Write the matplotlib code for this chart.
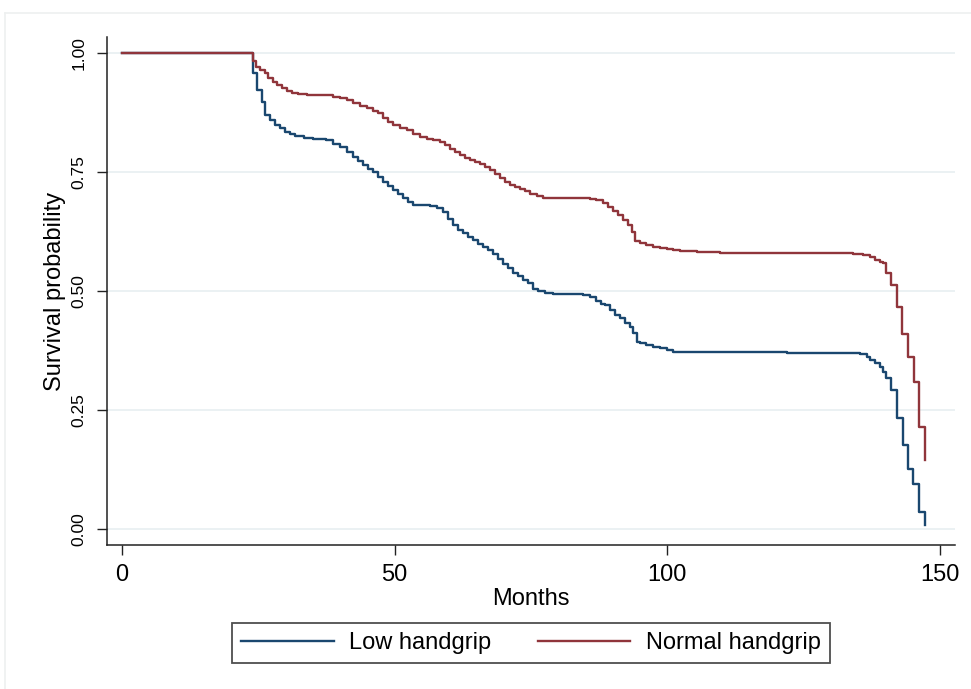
import matplotlib
matplotlib.use("Agg")
import matplotlib.pyplot as plt
from matplotlib.lines import Line2D

plt.rcParams['font.family'] = ['Liberation Sans', 'DejaVu Sans']

# Kaplan-Meier step points (months, survival)
low_t = [0, 24.0, 24.7, 25.6, 26.2, 27.1, 28.0, 29.0, 29.9, 30.8, 31.7, 33.3, 35.1,
         37.5, 38.75, 40.0, 41.2, 42.4, 43.3, 44.3, 45.2, 46.1, 47.0, 47.9, 48.8,
         49.75, 50.7, 51.6, 52.5, 53.4, 54.6, 56.5, 57.7, 58.9, 59.8, 60.8, 61.7,
         62.6, 63.5, 64.4, 65.3, 66.3, 67.2, 68.1, 69.0, 69.9, 70.8, 71.8, 72.7,
         73.6, 74.5, 75.4, 76.3, 77.6, 79.1, 84.6, 85.8, 87.0, 87.9, 88.6, 89.5,
         90.4, 91.3, 92.3, 93.2, 93.8, 94.4, 95.0, 96.2, 97.4, 98.7, 99.9, 101.1,
         102.9, 121.9, 135.3, 136.6, 137.2, 138.1, 139.0, 139.6, 140.2, 141.1,
         142.2, 143.2, 144.2, 145.1, 146.2, 147.3]
low_s = [1.0, 0.957, 0.921, 0.897, 0.869, 0.859, 0.848, 0.841, 0.834, 0.829, 0.825,
         0.822, 0.820, 0.816, 0.809, 0.802, 0.792, 0.782, 0.773, 0.764, 0.757, 0.750,
         0.740, 0.729, 0.720, 0.712, 0.704, 0.695, 0.686, 0.681, 0.680, 0.678, 0.675,
         0.666, 0.652, 0.638, 0.628, 0.621, 0.613, 0.606, 0.598, 0.593, 0.586, 0.577,
         0.568, 0.557, 0.548, 0.538, 0.531, 0.523, 0.516, 0.505, 0.500, 0.496, 0.493,
         0.492, 0.487, 0.480, 0.473, 0.470, 0.460, 0.449, 0.443, 0.432, 0.425, 0.411,
         0.393, 0.390, 0.387, 0.383, 0.380, 0.376, 0.373, 0.371, 0.370, 0.368, 0.362,
         0.355, 0.348, 0.341, 0.331, 0.317, 0.292, 0.233, 0.177, 0.126, 0.095, 0.037,
         0.009]

normal_t = [0, 24.0, 24.6, 25.4, 26.2, 26.8, 27.75, 28.4, 29.3, 30.2, 31.1, 32.3, 33.9,
            38.75, 40.0, 41.2, 42.4, 43.6, 44.9, 46.1, 47.0, 47.9, 48.8, 49.75, 51.0,
            52.2, 53.4, 54.6, 55.9, 57.1, 58.3, 59.2, 60.1, 61.1, 62.0, 62.9, 63.8,
            64.7, 65.7, 66.6, 67.5, 68.4, 69.3, 70.2, 71.2, 72.1, 73.0, 73.9, 74.8,
            76.1, 77.3, 84.0, 85.8, 87.0, 88.3, 89.2, 90.1, 91.0, 91.9, 92.9, 93.5,
            94.1, 95.0, 96.2, 97.4, 98.7, 99.9, 101.1, 102.3, 103.6, 105.4, 107.2,
            109.7, 126.2, 134.1, 135.9, 137.2, 138.1, 139.0, 139.6, 140.2, 141.1,
            142.2, 143.0, 144.2, 145.3, 146.2, 147.3]
normal_s = [1.0, 0.983, 0.970, 0.963, 0.957, 0.946, 0.939, 0.932, 0.925, 0.920, 0.916,
            0.913, 0.911, 0.907, 0.904, 0.900, 0.894, 0.889, 0.884, 0.878, 0.873, 0.862,
            0.855, 0.848, 0.843, 0.837, 0.830, 0.823, 0.820, 0.816, 0.813, 0.806, 0.799,
            0.792, 0.785, 0.780, 0.775, 0.770, 0.766, 0.761, 0.754, 0.746, 0.738, 0.729,
            0.722, 0.718, 0.714, 0.709, 0.704, 0.699, 0.696, 0.695, 0.694, 0.691, 0.685,
            0.677, 0.668, 0.659, 0.649, 0.638, 0.624, 0.605, 0.601, 0.596, 0.593, 0.590,
            0.588, 0.586, 0.584, 0.583, 0.582, 0.581, 0.580, 0.579, 0.577, 0.575, 0.572,
            0.566, 0.561, 0.558, 0.537, 0.512, 0.466, 0.410, 0.362, 0.310, 0.215, 0.145]

series_labels = ["Low handgrip", "Normal handgrip"]
x_ticks = [0, 50, 100, 150]
y_ticks = [0.0, 0.25, 0.50, 0.75, 1.0]
y_ticklabels = ["0.00", "0.25", "0.50", "0.75", "1.00"]

NAVY = "#1a476f"
MAROON = "#90353b"

fig = plt.figure(figsize=(9.71, 6.89), dpi=100)
fig.patch.set_facecolor("white")

# faint outer graph-region outline
fig.add_artist(Line2D([5/971, 1.0], [1 - 13/689, 1 - 13/689], transform=fig.transFigure,
                      color="#eef0f0", lw=1.2))
fig.add_artist(Line2D([5/971, 5/971], [0.0, 1 - 13/689], transform=fig.transFigure,
                      color="#eef0f0", lw=1.2))

ax = fig.add_axes([107/971, 1 - 545/689, (955 - 107)/971, (545 - 37)/689])
ax.set_facecolor("white")

for yv in y_ticks:
    ax.axhline(yv, color="#e8eff1", lw=1.2, zorder=0)

ax.plot(low_t, low_s, drawstyle="steps-post", color=NAVY, lw=1.7, label=series_labels[0], zorder=3)
ax.plot(normal_t, normal_s, drawstyle="steps-post", color=MAROON, lw=1.7, label=series_labels[1], zorder=3)

ax.set_xlim(-2.75, 152.8)
ax.set_ylim(-0.033, 1.033)

for side in ["top", "right"]:
    ax.spines[side].set_visible(False)
for side in ["left", "bottom"]:
    ax.spines[side].set_color("#222222")
    ax.spines[side].set_linewidth(1.1)

ax.set_xticks(x_ticks)
ax.set_xticklabels([str(v) for v in x_ticks], fontsize=17)
ax.set_yticks(y_ticks)
ax.set_yticklabels(y_ticklabels, fontsize=12.5, rotation=90, va="center")
ax.tick_params(axis="both", direction="out", length=7, width=1.0, color="#222222")
ax.tick_params(axis="x", pad=7)
ax.tick_params(axis="y", pad=8)

ax.set_xlabel("Months", fontsize=17, labelpad=1)
ax.set_ylabel("Survival probability", fontsize=17, labelpad=4)

leg = fig.legend(loc="center", bbox_to_anchor=(531/971, 1 - 643/689), ncol=2,
                 fontsize=17, frameon=True, fancybox=False, handlelength=3.9,
                 handletextpad=0.65, columnspacing=2.0, borderpad=0.4)
leg.get_frame().set_edgecolor("#222222")
leg.get_frame().set_linewidth(1.3)
for h in leg.legend_handles:
    h.set_linewidth(1.7)

fig.savefig("out.png", dpi=100)
